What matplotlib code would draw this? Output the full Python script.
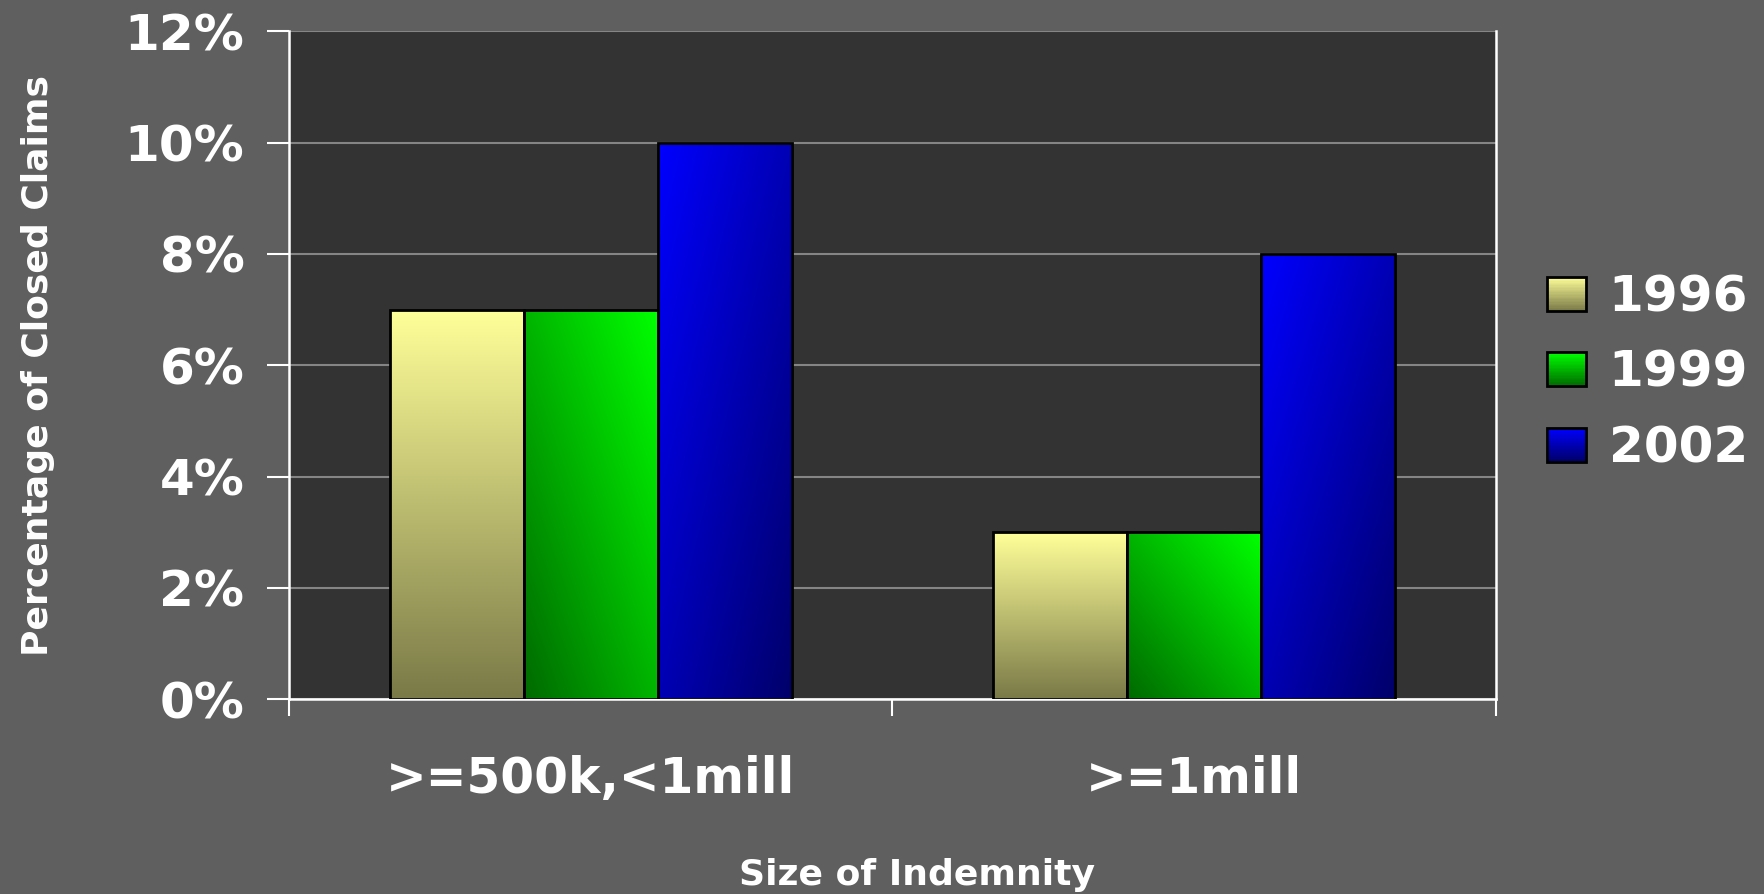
import numpy as np
import matplotlib
matplotlib.use("Agg")
import matplotlib.pyplot as plt
from matplotlib.patches import Rectangle
from matplotlib.legend_handler import HandlerBase
from matplotlib.colors import LinearSegmentedColormap

categories = [">=500k,<1mill", ">=1mill"]
series_names = ["1996", "1999", "2002"]
v1996 = [7, 3]
v1999 = [7, 3]
v2002 = [10, 8]
yticks = [0, 2, 4, 6, 8, 10, 12]

values = [v1996, v1999, v2002]
grads = [
    ("#FFFF99", "#7A7A48", "vertical"),
    ("#00FF00", "#006A00", "diag_green"),
    ("#0000FF", "#00006A", "diag_blue"),
]

plt.rcParams['font.family'] = ['DejaVu Sans']
plt.rcParams['font.weight'] = 'bold'
plt.rcParams['axes.labelweight'] = 'bold'

fig = plt.figure(figsize=(17.65, 8.94), dpi=100)
fig.patch.set_facecolor("#5F5F5F")
ax = fig.add_axes([0.1637, 0.2181, 0.6839, 0.7467])
ax.set_facecolor("#333333")


def grad_array(direction, n=100):
    yy, xx = np.mgrid[0:1:n * 1j, 0:1:n * 1j]
    if direction == "vertical":
        t = yy
    elif direction == "diag_green":
        t = (yy + (1 - xx)) / 2
    else:
        t = (yy + xx) / 2
    return t


bar_w = 0.222
x = np.arange(len(categories))
for i, (vals, (c0, c1, d)) in enumerate(zip(values, grads)):
    cmap = LinearSegmentedColormap.from_list("g%d" % i, [c0, c1])
    offs = (i - 1) * bar_w
    bars = ax.bar(x + offs, vals, width=bar_w, facecolor="none",
                  edgecolor="black", linewidth=2, zorder=3)
    for b in bars:
        x0, w, h = b.get_x(), b.get_width(), b.get_height()
        im = ax.imshow(grad_array(d), cmap=cmap, vmin=0, vmax=1,
                       extent=(x0, x0 + w, 0, h), origin="upper",
                       aspect="auto", zorder=2, interpolation="bilinear")
        im.set_clip_path(b)

ax.set_xlim(-0.5, 1.5)
ax.set_ylim(0, 12)
ax.set_yticks(yticks)
ax.set_yticklabels(["%d%%" % t for t in yticks])
ax.yaxis.grid(True, color="#858585", linewidth=1.5, zorder=1)
ax.set_axisbelow(True)

ax.set_xticks([-0.5, 0.5, 1.5])
ax.set_xticklabels([])
ax.set_xticks(x, minor=True)
ax.set_xticklabels(categories, minor=True)
ax.tick_params(axis="x", which="minor", length=0, pad=40,
               labelsize=35, labelcolor="white")
ax.tick_params(axis="x", which="major", length=12, width=1.5, color="white",
               direction="out")
ax.tick_params(axis="y", length=16, width=1.5, color="white", direction="out",
               labelsize=36, labelcolor="white", pad=16)

for s in ["left", "right", "bottom"]:
    ax.spines[s].set_color("white")
    ax.spines[s].set_linewidth(1.8)
ax.spines["top"].set_visible(False)

ax.set_ylabel("Percentage of Closed Claims", fontsize=26, color="white",
              labelpad=50)
ax.set_xlabel("Size of Indemnity", fontsize=26, color="white", labelpad=40)
ax.xaxis.label.set_x(0.52)


class GradHandler(HandlerBase):
    def __init__(self, c0, c1, d):
        super().__init__()
        self.c0, self.c1, self.d = c0, c1, d

    def create_artists(self, legend, orig_handle, xdescent, ydescent,
                       width, height, fontsize, trans):
        cmap = LinearSegmentedColormap.from_list("lg", [self.c0, self.c1])
        arts = []
        n = 24
        for k in range(n):
            t = (k + 0.5) / n
            y0 = -ydescent + height * (1 - (k + 1) / n)
            r = Rectangle((-xdescent, y0), width, height / n,
                          facecolor=cmap(t), edgecolor="none",
                          transform=trans)
            arts.append(r)
        border = Rectangle((-xdescent, -ydescent), width, height,
                           facecolor="none", edgecolor="black",
                           linewidth=2, transform=trans)
        arts.append(border)
        return arts


handles = [Rectangle((0, 0), 1, 1) for _ in series_names]
hmap = {h: GradHandler(c0, c1, d) for h, (c0, c1, d) in zip(handles, grads)}
leg = fig.legend(handles, series_names, handler_map=hmap,
                 loc="center left", bbox_to_anchor=(0.8765, 0.583),
                 borderaxespad=0, borderpad=0,
                 frameon=False, fontsize=36, labelcolor="white",
                 handlelength=0.78, handleheight=0.66, labelspacing=0.55,
                 handletextpad=0.45)

fig.savefig("out.png", dpi=100, facecolor=fig.get_facecolor())
